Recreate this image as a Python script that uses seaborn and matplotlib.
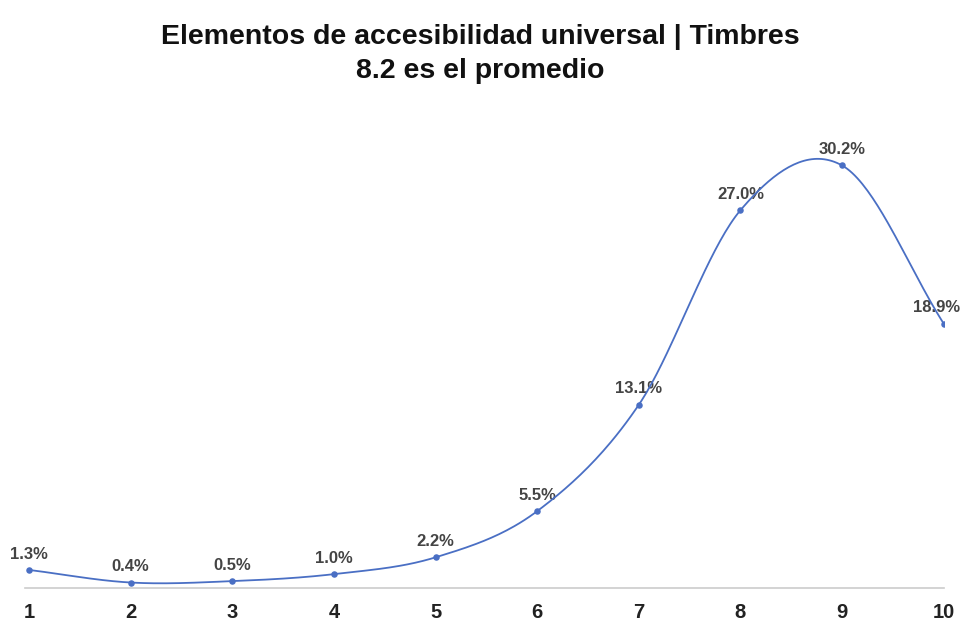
import numpy as np
import pandas as pd
import matplotlib.pyplot as plt
import seaborn as sns

sns.set_theme(style="white")
plt.rcParams['font.family'] = ['Liberation Sans', 'DejaVu Sans']

# data
notas = [1, 2, 3, 4, 5, 6, 7, 8, 9, 10]
porcentajes = [1.3, 0.4, 0.5, 1.0, 2.2, 5.5, 13.1, 27.0, 30.2, 18.9]
etiquetas = [f"{v:.1f}%" for v in porcentajes]

titulo = "Elementos de accesibilidad universal | Timbres\n8.2 es el promedio"

azul = "#4a6fc4"

df = pd.DataFrame({"nota": notas, "pct": porcentajes})


# smooth line like the spreadsheet one (cubic hermite / catmull-rom)
def suavizar(x, y, n=40):
    x = np.asarray(x, float)
    y = np.asarray(y, float)
    m = np.zeros_like(y)
    m[1:-1] = (y[2:] - y[:-2]) / (x[2:] - x[:-2])
    m[0] = y[1] - y[0]
    m[-1] = y[-1] - y[-2]
    xs, ys = [], []
    for i in range(len(x) - 1):
        t = np.linspace(0, 1, n, endpoint=False)
        h = x[i + 1] - x[i]
        h00 = 2 * t**3 - 3 * t**2 + 1
        h10 = t**3 - 2 * t**2 + t
        h01 = -2 * t**3 + 3 * t**2
        h11 = t**3 - t**2
        xs.append(x[i] + t * h)
        ys.append(h00 * y[i] + h10 * h * m[i] + h01 * y[i + 1] + h11 * h * m[i + 1])
    xs.append([x[-1]])
    ys.append([y[-1]])
    return np.concatenate(xs), np.concatenate(ys)


xs, ys = suavizar(df["nota"], df["pct"])

fig = plt.figure(figsize=(9.61, 6.25), dpi=100)
ax = fig.add_axes([0.026, 0.059, 0.956, 0.739])

# labels first so the line sits on top of them
ultimo = len(notas) - 1
for i, (x, y, t) in enumerate(zip(df["nota"], df["pct"], etiquetas)):
    if i == ultimo:
        # last one is pushed left so it stays inside the figure
        off, ha = (12, 6), "right"
    else:
        off, ha = (0, 6), "center"
    ax.annotate(t, (x, y), xytext=off, textcoords="offset points",
                ha=ha, va="bottom", fontsize=12, fontweight="bold",
                color="#444444", zorder=1)

ax.plot(xs, ys, color=azul, lw=1.3, zorder=2)
sns.scatterplot(data=df, x="nota", y="pct", color=azul, s=22,
                edgecolor=azul, linewidth=0, zorder=3, ax=ax)

ax.set_xlim(0.96, 10.0)
ax.set_ylim(0, 33)
ax.set_xticks(notas)
ax.set_xticklabels([str(n) for n in notas], fontsize=14.5, fontweight="bold",
                   color="#222222")
ax.set_yticks([])
ax.tick_params(axis="x", length=0, pad=11)
ax.set_xlabel("")
ax.set_ylabel("")

for s in ["top", "right", "left"]:
    ax.spines[s].set_visible(False)
ax.spines["bottom"].set_color("#cccccc")
ax.spines["bottom"].set_linewidth(1.2)

fig.suptitle(titulo, fontsize=20.5, fontweight="bold", color="#111111",
             y=0.962, linespacing=1.4)

fig.savefig("out.png", dpi=100)
